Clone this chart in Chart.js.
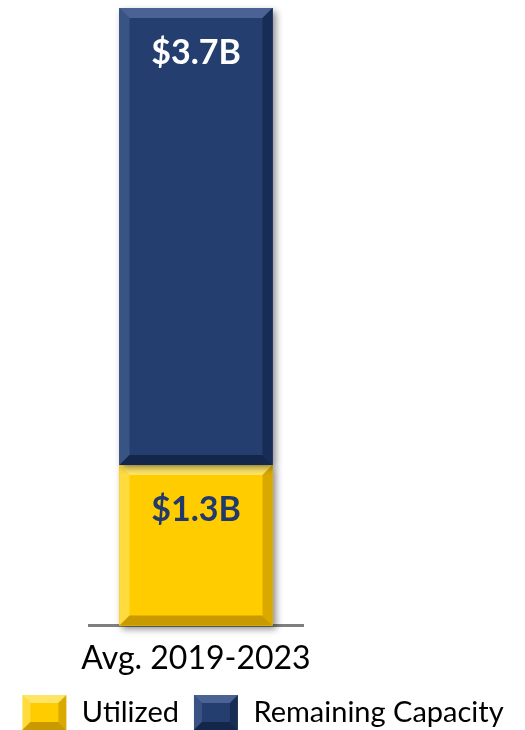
<!DOCTYPE html>
<html>
<head>
<meta charset="utf-8">
<script src="https://cdn.jsdelivr.net/npm/chart.js@4.4.1/dist/chart.umd.min.js"></script>
<style>
	html, body { margin: 0; padding: 0; background: #ffffff; }
	#wrap { width: 525px; height: 730px; position: relative; }
</style>
</head>
<body>
<div id="wrap"><canvas id="capacityChart"></canvas></div>
<script>
// Data
let categories = ['Avg. 2019-2023'];
let seriesNames = ['Utilized', 'Remaining Capacity'];
let utilized = [1.3];
let remaining = [3.7];
let valueLabels = [['$1.3B'], ['$3.7B']];

let fillColors = ['#ffcc00', '#243e6f'];
let lightColors = ['#ffe566', '#4a6394'];
let darkColors = ['#c99a00', '#14264a'];
let labelColors = ['#223a6b', '#ffffff'];
let fontFamily = 'Lato, "Open Sans", sans-serif';

function bevelPath(ctx, l, t, r, b, size, colorIndex) {
	// main face
	ctx.fillStyle = fillColors[colorIndex];
	ctx.fillRect(l, t, r - l, b - t);
	// top edge
	ctx.fillStyle = lightColors[colorIndex];
	ctx.beginPath();
	ctx.moveTo(l, t); ctx.lineTo(r, t); ctx.lineTo(r - size, t + size); ctx.lineTo(l + size, t + size);
	ctx.closePath(); ctx.fill();
	// left edge
	ctx.globalAlpha = 0.6;
	ctx.beginPath();
	ctx.moveTo(l, t); ctx.lineTo(l + size, t + size); ctx.lineTo(l + size, b - size); ctx.lineTo(l, b);
	ctx.closePath(); ctx.fill();
	ctx.globalAlpha = 1;
	// right edge
	ctx.fillStyle = darkColors[colorIndex];
	ctx.globalAlpha = 0.7;
	ctx.beginPath();
	ctx.moveTo(r, t); ctx.lineTo(r, b); ctx.lineTo(r - size, b - size); ctx.lineTo(r - size, t + size);
	ctx.closePath(); ctx.fill();
	ctx.globalAlpha = 1;
	// bottom edge
	ctx.beginPath();
	ctx.moveTo(l, b); ctx.lineTo(r, b); ctx.lineTo(r - size, b - size); ctx.lineTo(l + size, b - size);
	ctx.closePath(); ctx.fill();
}

function makeSwatch(colorIndex) {
	let c = document.createElement('canvas');
	c.width = 46; c.height = 37;
	let cx = c.getContext('2d');
	bevelPath(cx, 1, 1, 45, 36, 8, colorIndex);
	return c;
}
let swatches = [makeSwatch(0), makeSwatch(1)];

// bevel + value labels on top of the library's bar elements
let bevelPlugin = {
	id: 'bevel',
	afterDatasetsDraw(chart) {
		let ctx = chart.ctx;
		chart.data.datasets.forEach((ds, i) => {
			let meta = chart.getDatasetMeta(i);
			meta.data.forEach((bar, j) => {
				let p = bar.getProps(['x', 'y', 'base', 'width'], true);
				let l = p.x - p.width / 2, r = p.x + p.width / 2;
				let t = Math.min(p.y, p.base), b = Math.max(p.y, p.base);
				ctx.save();
				ctx.shadowColor = 'rgba(0,0,0,0.45)';
				ctx.shadowBlur = 7;
				ctx.shadowOffsetX = 3;
				ctx.shadowOffsetY = 3;
				ctx.fillStyle = fillColors[i];
				ctx.fillRect(l, t, r - l, b - t);
				ctx.restore();
				ctx.save();
				bevelPath(ctx, l, t, r, b, 10, i);
				ctx.fillStyle = labelColors[i];
				ctx.font = 'bold 34px ' + fontFamily;
				ctx.textAlign = 'center';
				ctx.textBaseline = 'middle';
				ctx.fillText(valueLabels[i][j], p.x, t + 45);
				ctx.restore();
			});
		});
	}
};

let ctx = document.getElementById('capacityChart').getContext('2d');
let capacityChart = new Chart(ctx, {
	type: 'bar',
	data: {
		labels: categories,
		datasets: [
			{
				label: seriesNames[0],
				data: utilized,
				backgroundColor: fillColors[0],
				borderWidth: 0
			},
			{
				label: seriesNames[1],
				data: remaining,
				backgroundColor: fillColors[1],
				borderWidth: 0
			}
		]
	},
	options: {
		responsive: true,
		maintainAspectRatio: false,
		animation: false,
		layout: { padding: { top: 8, bottom: -7 } },
		datasets: { bar: { categoryPercentage: 1, barPercentage: 0.715 } },
		plugins: {
			tooltip: { enabled: false },
			legend: {
				position: 'bottom',
				labels: {
					usePointStyle: true,
					pointStyleWidth: 46,
					padding: 14,
					color: '#000000',
					font: { family: fontFamily, size: 29 },
					generateLabels(chart) {
						return chart.data.datasets.map((ds, i) => ({
							text: ds.label,
							pointStyle: swatches[i],
							fillStyle: fillColors[i],
							strokeStyle: fillColors[i],
							lineWidth: 0,
							hidden: false,
							datasetIndex: i
						}));
					}
				}
			}
		},
		scales: {
			x: {
				stacked: true,
				grid: { display: false },
				border: { color: '#7f7f7f', width: 3 },
				ticks: { color: '#000000', font: { family: fontFamily, size: 32 }, padding: 6 }
			},
			y: {
				stacked: true,
				min: 0,
				max: 5,
				ticks: { display: false },
				grid: { display: false },
				border: { display: false },
				afterFit(scale) { scale.width = 89; }
			},
			yRight: {
				position: 'right',
				min: 0,
				max: 5,
				ticks: { display: false },
				grid: { display: false },
				border: { display: false },
				afterFit(scale) { scale.width = 222; }
			}
		}
	},
	plugins: [bevelPlugin]
});
</script>
</body>
</html>
